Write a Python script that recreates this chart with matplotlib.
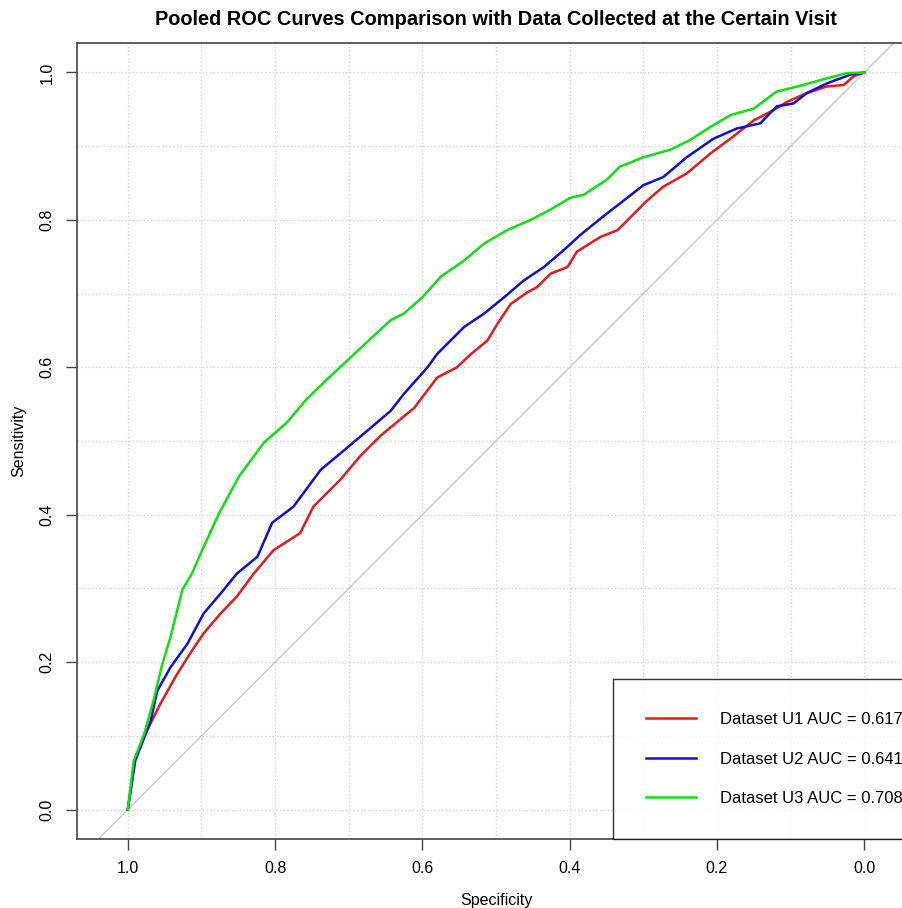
import matplotlib
matplotlib.use("Agg")
import matplotlib.pyplot as plt
from matplotlib.ticker import MultipleLocator

plt.rcParams['font.family'] = ['Liberation Sans', 'DejaVu Sans']

# specificity / sensitivity points
spec_u1 = [1.0, 0.990, 0.974, 0.956, 0.933, 0.910, 0.897, 0.874, 0.852, 0.829, 0.802,
           0.766, 0.748, 0.711, 0.684, 0.657, 0.611, 0.580, 0.553, 0.534, 0.512, 0.498,
           0.480, 0.457, 0.444, 0.426, 0.403, 0.390, 0.358, 0.335, 0.295, 0.273, 0.241,
           0.209, 0.178, 0.150, 0.123, 0.105, 0.078, 0.051, 0.028, 0.014, 0.0]
sens_u1 = [0.0, 0.070, 0.107, 0.143, 0.184, 0.220, 0.239, 0.266, 0.289, 0.320, 0.352,
           0.375, 0.411, 0.448, 0.480, 0.507, 0.545, 0.586, 0.600, 0.618, 0.636, 0.659,
           0.686, 0.702, 0.709, 0.727, 0.736, 0.757, 0.777, 0.786, 0.826, 0.845, 0.863,
           0.890, 0.913, 0.935, 0.949, 0.960, 0.972, 0.981, 0.983, 0.995, 1.0]

spec_u2 = [1.0, 0.990, 0.969, 0.960, 0.942, 0.919, 0.897, 0.874, 0.852, 0.824, 0.804,
           0.775, 0.738, 0.702, 0.670, 0.643, 0.625, 0.593, 0.580, 0.543, 0.516, 0.489,
           0.462, 0.435, 0.408, 0.385, 0.354, 0.332, 0.300, 0.273, 0.241, 0.205, 0.173,
           0.141, 0.119, 0.096, 0.078, 0.051, 0.019, 0.0]
sens_u2 = [0.0, 0.066, 0.120, 0.161, 0.193, 0.225, 0.266, 0.293, 0.320, 0.343, 0.389,
           0.411, 0.461, 0.491, 0.518, 0.541, 0.564, 0.600, 0.618, 0.655, 0.673, 0.695,
           0.718, 0.736, 0.759, 0.780, 0.805, 0.822, 0.847, 0.858, 0.885, 0.910, 0.924,
           0.931, 0.954, 0.958, 0.972, 0.985, 0.997, 1.0]

spec_u3 = [1.0, 0.992, 0.978, 0.965, 0.953, 0.942, 0.926, 0.913, 0.899, 0.876, 0.849,
           0.815, 0.784, 0.757, 0.729, 0.670, 0.643, 0.625, 0.600, 0.575, 0.543, 0.516,
           0.485, 0.453, 0.426, 0.399, 0.381, 0.349, 0.332, 0.300, 0.264, 0.237, 0.209,
           0.182, 0.150, 0.119, 0.083, 0.051, 0.024, 0.0]
sens_u3 = [0.0, 0.066, 0.102, 0.148, 0.198, 0.234, 0.298, 0.320, 0.352, 0.402, 0.452,
           0.498, 0.525, 0.557, 0.584, 0.639, 0.664, 0.673, 0.695, 0.723, 0.745, 0.768,
           0.786, 0.800, 0.814, 0.830, 0.834, 0.855, 0.872, 0.885, 0.895, 0.908, 0.926,
           0.942, 0.951, 0.974, 0.983, 0.992, 0.999, 1.0]

labels = ["Dataset U1 AUC = 0.617", "Dataset U2 AUC = 0.641", "Dataset U3 AUC = 0.708"]
colors = ["#e41a1c", "#1010d0", "#10e010"]

fig = plt.figure(figsize=(9.03, 9.08), dpi=100)
ax = fig.add_axes([77 / 903, 69 / 908, 838 / 903, 796 / 908])

ax.set_xlim(1.069, -0.069)
ax.set_ylim(-0.04, 1.04)

# grid every 0.1
ax.xaxis.set_major_locator(MultipleLocator(0.2))
ax.yaxis.set_major_locator(MultipleLocator(0.2))
ax.xaxis.set_minor_locator(MultipleLocator(0.1))
ax.yaxis.set_minor_locator(MultipleLocator(0.1))
ax.grid(True, which='both', linestyle=':', color='#d4d4d4', linewidth=1)
ax.set_axisbelow(True)

ax.axline((1, 0), (0, 1), color='#c8c8c8', linewidth=1, zorder=1)

for sx, sy, c, lab in zip([spec_u1, spec_u2, spec_u3], [sens_u1, sens_u2, sens_u3], colors, labels):
    ax.plot(sx, sy, color=c, linewidth=1.8, label=lab, zorder=3)

ax.tick_params(which='major', length=8, width=1, color='#444444', labelsize=11.5, pad=8)
ax.tick_params(which='minor', length=0)
ax.set_xticklabels(["%.1f" % t for t in ax.get_xticks()])
ax.set_yticklabels(["%.1f" % t for t in ax.get_yticks()], rotation=90, va='center')
for s in ax.spines.values():
    s.set_color('#444444')
    s.set_linewidth(1.2)

ax.set_xlabel("Specificity", fontsize=11.5, labelpad=12)
ax.set_ylabel("Sensitivity", fontsize=11.5, labelpad=10)
ax.set_title("Pooled ROC Curves Comparison with Data Collected at the Certain Visit",
             fontsize=14.4, fontweight='bold', pad=13)

x0 = (613 - 77) / 838
leg = ax.legend(loc='lower left', bbox_to_anchor=(x0, 0, 1 - x0, 0), mode='expand',
                fontsize=12, frameon=True, fancybox=False, edgecolor='black',
                borderpad=2.0, labelspacing=1.45, handlelength=3.0, handletextpad=1.4,
                borderaxespad=0)
leg.get_frame().set_linewidth(1)

fig.savefig("out.png", dpi=100)
